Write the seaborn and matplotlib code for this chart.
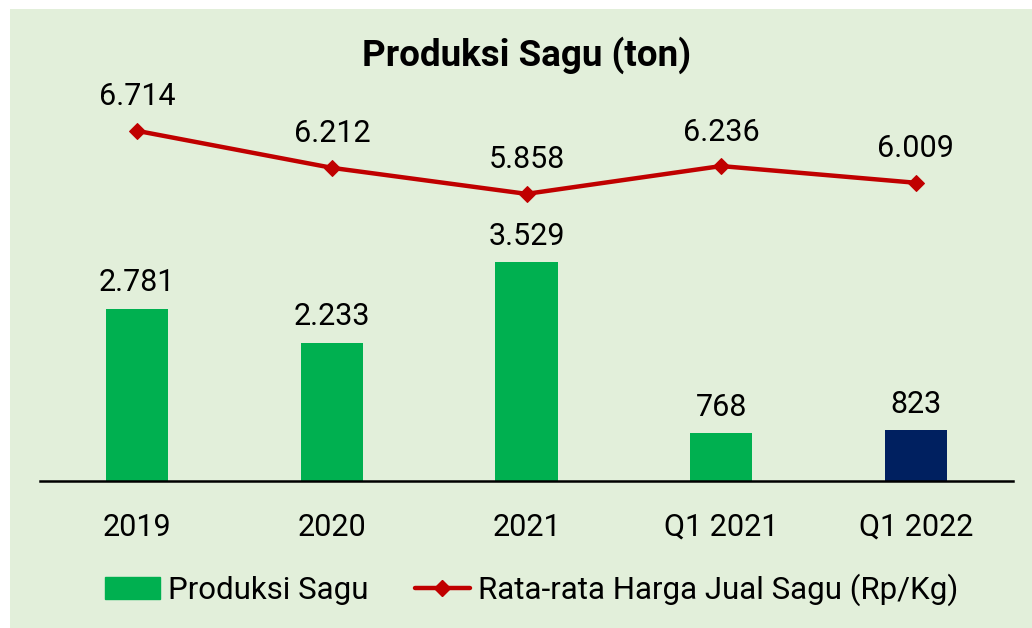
import numpy as np
import pandas as pd
import seaborn as sns
import matplotlib.pyplot as plt
from matplotlib.patches import Rectangle

# data
categories = ['2019', '2020', '2021', 'Q1 2021', 'Q1 2022']
produksi = [2781, 2233, 3529, 768, 823]
harga = [6714, 6212, 5858, 6236, 6009]
bar_colors = ['#00b050', '#00b050', '#00b050', '#00b050', '#002060']

sns.set_theme(style='white')
plt.rcParams['font.family'] = ['Roboto', 'DejaVu Sans']
plt.rcParams['text.color'] = 'black'

bg = '#e2efda'
df = pd.DataFrame({'periode': categories, 'produksi': produksi, 'harga': harga})

def fmt(v):
    return f'{int(round(v)):,}'.replace(',', '.')

fig = plt.figure(figsize=(10.32, 6.28), dpi=100)
fig.patch.set_facecolor('white')
fig.patches.append(Rectangle((10 / 1032, 0), 1 - 10 / 1032, 1 - 9 / 628,
                             transform=fig.transFigure, facecolor=bg,
                             edgecolor='none', zorder=-10))

ax = fig.add_axes([40 / 1032, 1 - 481 / 628, 973 / 1032, 421 / 628])
ax.set_facecolor('none')
sns.barplot(data=df, x='periode', y='produksi', hue='periode', palette=bar_colors,
            legend=False, width=0.32, ax=ax, saturation=1, linewidth=0)
ax.set_ylim(0, 6790)
for c in ax.containers:
    ax.bar_label(c, labels=[fmt(v) for v in c.datavalues], padding=8, fontsize=22,
                 color='black')

ax2 = ax.twinx()
sns.lineplot(data=df, x='periode', y='harga', color='#c00000', lw=3.2,
             marker='D', markersize=8, markeredgecolor='#c00000', ax=ax2)
ax2.set_ylim(1957, 7677)
for i, v in enumerate(harga):
    ax2.annotate(fmt(v), (i, v), xytext=(0, 14), textcoords='offset points',
                 ha='center', va='bottom', fontsize=22, color='black')

for a in (ax, ax2):
    a.set_xlabel('')
    a.set_ylabel('')
    a.set_yticks([])
    for s in ['top', 'left', 'right']:
        a.spines[s].set_visible(False)
ax2.spines['bottom'].set_visible(False)
ax.spines['bottom'].set_color('black')
ax.spines['bottom'].set_linewidth(1.8)
ax.tick_params(axis='x', length=0, pad=23, labelsize=22, colors='black')
ax.set_xlim(-0.5, len(categories) - 0.5)

fig.text(527 / 1032, 1 - 55 / 628, 'Produksi Sagu (ton)', ha='center', va='center',
         fontsize=26.5, fontweight='bold', color='black')

handles = [Rectangle((0, 0), 1, 1, color='#00b050'),
           plt.Line2D([], [], color='#c00000', lw=3.2, marker='D', markersize=8)]
fig.legend(handles, ['Produksi Sagu', 'Rata-rata Harga Jual Sagu (Rp/Kg)'],
           loc='center', bbox_to_anchor=(0.515, 1 - 590 / 628), ncol=2, frameon=False,
           fontsize=22.5, handlelength=1.75, handletextpad=0.25, columnspacing=1.5,
           labelcolor='black')

fig.savefig('out.png', dpi=100)
